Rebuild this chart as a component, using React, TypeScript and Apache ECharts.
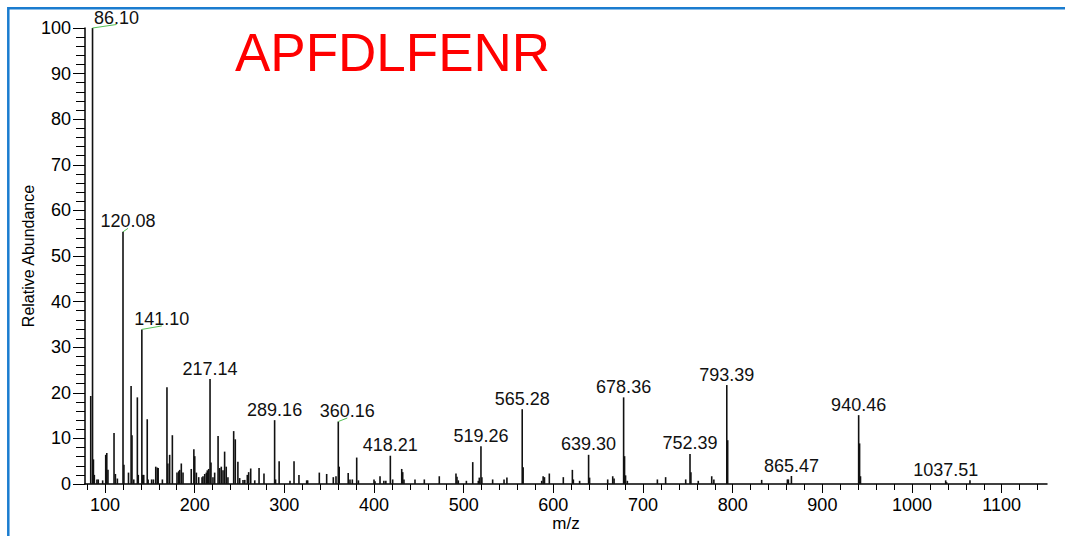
import React, { useEffect, useRef } from "react";
import * as echarts from "echarts";

const TITLE = "APFDLFENR";
const X_AXIS_NAME = "m/z";
const Y_AXIS_NAME = "Relative Abundance";
const X_MIN = 77.7;
const X_MAX = 1150.5;
const X_MAJOR_TICKS = [100, 200, 300, 400, 500, 600, 700, 800, 900, 1000, 1100];
const X_MINOR_TICKS = [
  80, 120, 140, 160, 180, 220, 240, 260, 280, 320, 340, 360, 380, 420, 440, 460, 480,
  520, 540, 560, 580, 620, 640, 660, 680, 720, 740, 760, 780, 820, 840, 860, 880,
  920, 940, 960, 980, 1020, 1040, 1060, 1080, 1120, 1140,
];

// peak positions (m/z) and relative abundances
const peakMz = [
  84.08, 86.1, 87.1, 88.1, 91.0, 92.5, 97.4, 100.8, 102.0, 103.3, 110.07, 111.6, 113.8,
  120.08, 121.1, 126.2, 129.1, 130.1, 132.1, 136.08, 137.1, 141.1, 142.1, 143.2, 147.11,
  148.1, 152.0, 154.0, 156.6, 158.3, 159.3, 164.0, 169.1, 170.1, 172.1, 175.12, 180.3,
  182.2, 183.3, 185.1, 187.0, 196.2, 199.1, 200.1, 201.9, 204.5, 208.2, 209.3, 211.2,
  213.0, 214.1, 215.6, 217.14, 218.2, 220.4, 222.3, 226.1, 227.9, 229.7, 231.6, 233.4,
  235.2, 237.1, 243.5, 245.3, 248.2, 250.2, 253.9, 255.9, 258.7, 260.2, 262.5, 267.0,
  271.8, 277.3, 289.16, 290.2, 294.2, 306.3, 310.8, 316.3, 324.9, 326.0, 339.0, 347.2,
  354.6, 357.6, 360.16, 361.2, 371.2, 373.2, 375.8, 380.7, 382.6, 400.0, 401.1, 406.7,
  411.0, 413.2, 418.21, 420.8, 430.9, 432.0, 433.4, 445.7, 456.1, 472.8, 491.4, 492.5,
  494.0, 503.0, 510.1, 516.3, 517.4, 519.26, 520.3, 532.3, 545.0, 548.2, 565.28, 566.3,
  587.0, 588.6, 590.1, 595.5, 611.1, 621.2, 622.3, 629.3, 639.3, 640.4, 660.6, 666.2,
  667.7, 678.36, 679.4, 680.5, 682.5, 716.0, 725.2, 747.6, 752.39, 753.4, 761.6, 776.6,
  779.0, 793.39, 794.4, 832.3, 861.0, 862.1, 865.47, 940.46, 941.5, 942.5, 1037.51,
  1038.5, 1064.6,
];
const peakIntensity = [
  19.3, 100, 5.4, 2.0, 1.0, 1.0, 0.8, 6.4, 6.8, 3.1, 11.2, 2.2, 1.2,
  55.3, 4.2, 2.5, 21.5, 10.7, 1.0, 19.0, 2.0, 33.9, 2.0, 2.0, 14.2,
  1.0, 1.0, 1.0, 3.8, 3.6, 3.5, 1.0, 21.2, 4.5, 6.4, 10.7, 2.5,
  2.8, 3.1, 4.5, 2.5, 3.3, 7.6, 6.1, 2.5, 1.5, 1.5, 1.7, 2.2,
  2.5, 3.0, 3.3, 23.0, 4.7, 1.5, 2.5, 10.5, 3.5, 3.8, 3.0, 7.1,
  3.8, 1.5, 11.6, 9.8, 4.9, 1.3, 0.9, 0.9, 2.0, 2.6, 3.4, 0.8,
  3.5, 2.3, 14.0, 1.0, 5.0, 0.7, 5.0, 2.0, 0.8, 0.8, 2.5, 2.2,
  1.5, 1.7, 13.7, 3.8, 2.4, 1.0, 1.0, 5.8, 0.8, 1.0, 0.6, 1.7,
  0.7, 0.7, 6.2, 1.0, 3.3, 2.6, 1.0, 1.0, 1.0, 1.7, 2.3, 1.6,
  0.8, 0.7, 4.8, 0.7, 1.4, 8.3, 1.5, 1.0, 1.0, 1.4, 16.4, 3.7,
  0.7, 1.7, 1.5, 2.3, 1.5, 3.1, 1.0, 0.7, 6.4, 1.4, 1.0, 1.7,
  1.2, 19.0, 6.1, 1.9, 0.7, 1.0, 1.5, 1.0, 6.6, 2.6, 0.7, 1.7,
  1.0, 21.7, 9.6, 0.9, 1.0, 1.0, 1.75, 15.1, 8.9, 1.7, 0.8,
  0.4, 0.8,
];
// annotated peaks
const labeledPeaks = [
  "86.10", "120.08", "141.10", "217.14", "289.16", "360.16", "418.21", "519.26",
  "565.28", "639.30", "678.36", "752.39", "793.39", "865.47", "940.46", "1037.51",
];

// styling: horizontal label shift (px) for labels drawn with a green leader line
const LEADER_SHIFT: Record<string, number> = {
  "86.10": 24,
  "120.08": 5,
  "141.10": 20,
  "360.16": 9,
};

const FONT = '"Liberation Sans", Arial, Helvetica, sans-serif';

export default function App() {
  const ref = useRef<HTMLDivElement>(null);

  useEffect(() => {
    if (!ref.current) return;
    const chart = echarts.init(ref.current, undefined, { renderer: "svg" });
    const labelSet = new Set(labeledPeaks);
    const data = peakMz.map((m, i) => [m, peakIntensity[i]]);

    chart.setOption({
      animation: false,
      backgroundColor: "#ffffff",
      grid: {
        left: 85,
        right: 18,
        top: 28,
        bottom: 52,
        containLabel: false,
        outerBoundsMode: "none",
      },
      xAxis: [
        {
          type: "value",
          min: X_MIN,
          max: X_MAX,
          position: "bottom",
          axisLine: { show: true, onZero: false, lineStyle: { color: "#000", width: 1.5 } },
          axisTick: { show: true, length: 9, customValues: X_MAJOR_TICKS, lineStyle: { color: "#000", width: 1 } },
          axisLabel: {
            customValues: X_MAJOR_TICKS,
            formatter: (v: number) => String(Math.round(v)),
            color: "#000",
            fontSize: 18,
            fontFamily: FONT,
            margin: 12,
          },
          splitLine: { show: false },
          name: X_AXIS_NAME,
          nameLocation: "middle",
          nameGap: 31,
          nameMoveOverlap: false,
          nameTextStyle: { color: "#000", fontSize: 17, fontFamily: FONT },
        },
        {
          type: "value",
          min: X_MIN,
          max: X_MAX,
          position: "bottom",
          offset: 0,
          axisLine: { show: false },
          axisTick: { show: true, length: 6, customValues: X_MINOR_TICKS, lineStyle: { color: "#000", width: 1 } },
          axisLabel: { show: false },
          splitLine: { show: false },
        },
      ],
      yAxis: {
        type: "value",
        min: 0,
        max: 100,
        interval: 10,
        axisLine: { show: true, lineStyle: { color: "#000", width: 1.5 } },
        axisTick: { show: true, length: 12, lineStyle: { color: "#000", width: 1 } },
        minorTick: { show: true, splitNumber: 5, length: 9, lineStyle: { color: "#000", width: 1 } },
        splitLine: { show: false },
        minorSplitLine: { show: false },
        axisLabel: { color: "#000", fontSize: 18, fontFamily: FONT, margin: 14 },
        name: Y_AXIS_NAME,
        nameLocation: "middle",
        nameGap: 49,
        nameRotate: 90,
        nameMoveOverlap: false,
        nameTextStyle: { color: "#000", fontSize: 16, fontFamily: FONT },
      },
      graphic: [
        {
          type: "rect",
          shape: { x: 8.3, y: 8.3, width: 1075, height: 545 },
          style: { fill: "none", stroke: "#1a7ccf", lineWidth: 2.5 },
          silent: true,
        },
        {
          type: "text",
          x: 235,
          y: 52,
          style: {
            text: TITLE,
            fill: "#ff0000",
            fontSize: 53,
            fontFamily: FONT,
            align: "left",
            verticalAlign: "middle",
          },
        },
      ],
      series: [
        {
          type: "custom",
          xAxisIndex: 0,
          yAxisIndex: 0,
          data,
          encode: { x: 0, y: 1 },
          renderItem: (params: any, api: any) => {
            const mz = api.value(0) as number;
            const inten = api.value(1) as number;
            const base = api.coord([mz, 0]);
            const top = api.coord([mz, inten]);
            const children: any[] = [
              {
                type: "line",
                shape: { x1: base[0], y1: base[1], x2: top[0], y2: top[1] },
                style: { stroke: "#111", lineWidth: 1.6 },
              },
            ];
            const key = mz.toFixed(2);
            if (labelSet.has(key)) {
              const shift = LEADER_SHIFT[key] ?? 0;
              if (shift) {
                children.push({
                  type: "line",
                  shape: { x1: top[0], y1: top[1], x2: top[0] + shift, y2: top[1] - 3.5 },
                  style: { stroke: "#55c055", lineWidth: 1 },
                });
              }
              children.push({
                type: "text",
                x: top[0] + shift,
                y: top[1] - 10.5,
                style: {
                  text: key,
                  fill: "#111",
                  fontSize: 18,
                  fontFamily: FONT,
                  align: "center",
                  verticalAlign: "middle",
                },
              });
            }
            return { type: "group", children };
          },
        },
      ],
    });

    return () => chart.dispose();
  }, []);

  return (
    <div
      ref={ref}
      style={{ position: "absolute", left: 0, top: 0, width: 1065, height: 536 }}
    />
  );
}
